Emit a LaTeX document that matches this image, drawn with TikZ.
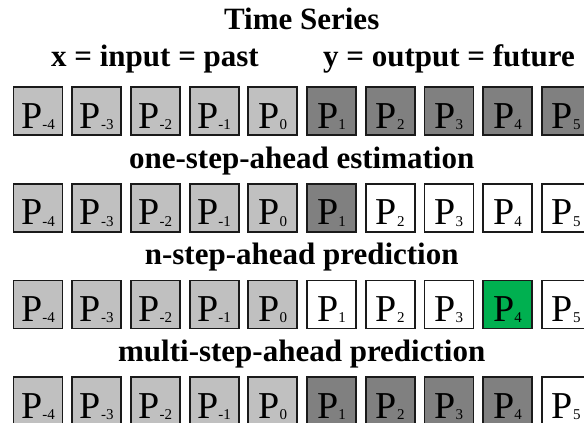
\documentclass[tikz,border=0pt]{standalone}
\usepackage{fontspec}
\setmainfont{Liberation Serif}
\usetikzlibrary{positioning}
\definecolor{clight}{HTML}{C0C0C0}
\definecolor{cdark}{HTML}{808080}
\definecolor{cgreen}{HTML}{00B050}
\definecolor{cline}{HTML}{1A1A1A}
\newcommand{\psub}[1]{P\raisebox{-1.5pt}{\fontsize{15}{15}\selectfont #1}}
\tikzset{
  pbox/.style={draw=cline, fill=#1, line width=1.8pt, minimum width=49pt, minimum height=48pt,
    inner sep=0pt, text height=34pt, text depth=0pt, font=\fontsize{38}{38}\selectfont},
  pbox/.default=clight,
  head/.style={font=\bfseries\fontsize{31}{31}\selectfont, anchor=base, inner sep=0pt},
}
\begin{document}
\begin{tikzpicture}[x=1pt, y=-1pt]
  \useasboundingbox (0,0) rectangle (584,423);
  \clip (0,0) rectangle (584,423);
  % headings
  \node[head] (title) at (301.7,30) {Time Series};
  \node[head] (xin) at (155,66) {x = input = past};
  \node[head] (yout) at (449,66) {y = output = future};
  \node[head] (one) at (301.7,168) {one-step-ahead estimation};
  \node[head] (nstep) at (301.7,264.5) {n-step-ahead prediction};
  \node[head] (multi) at (301.7,361) {multi-step-ahead prediction};

  % past values, the same in every row
  \foreach \r in {1,...,4} {
    \foreach \i/\s in {1/-4, 2/-3, 3/-2, 4/-1, 5/0} {
      \node[pbox] (b\r\i) at ({38+58.7*(\i-1)}, {111+96.7*(\r-1)}) {\psub{\s}};
    }
  }
  % future values: fill of P1..P5 in each row
  \foreach \r/\cs in {
      1/{cdark,cdark,cdark,cdark,cdark},
      2/{cdark,white,white,white,white},
      3/{white,white,white,cgreen,white},
      4/{cdark,cdark,cdark,cdark,white}} {
    \foreach \c [count=\k from 6, evaluate=\k as \s using int(\k-5)] in \cs {
      \node[pbox=\c] (b\r\k) at ({38+58.7*(\k-1)}, {111+96.7*(\r-1)}) {\psub{\s}};
    }
  }
\end{tikzpicture}
\end{document}
